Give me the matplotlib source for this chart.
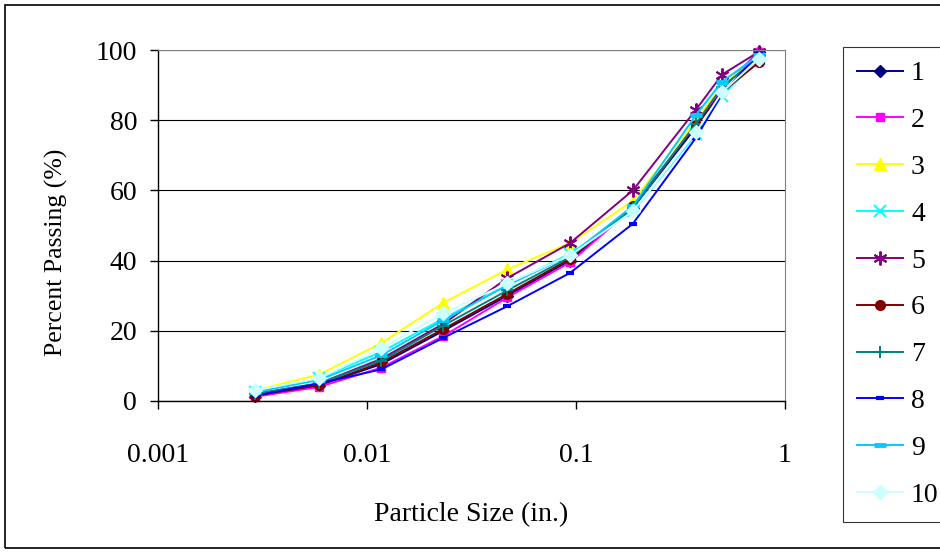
import matplotlib
matplotlib.use("Agg")
import matplotlib.pyplot as plt
from matplotlib.patches import Rectangle
import matplotlib.ticker as mticker

sizes = [0.0029, 0.0059, 0.0117, 0.0232, 0.0469, 0.0937, 0.187, 0.375, 0.5, 0.75]
labels = ["1", "2", "3", "4", "5", "6", "7", "8", "9", "10"]
s1 = [1.5, 4.5, 10.5, 20.0, 30.0, 40.0, 55.0, 78.0, 89.0, 99.5]
s2 = [1.2, 4.0, 9.5, 18.5, 29.5, 39.5, 55.0, 79.0, 89.0, 99.5]
s3 = [3.0, 7.5, 16.5, 28.0, 37.5, 45.0, 57.0, 80.0, 90.0, 98.0]
s4 = [2.5, 6.5, 14.0, 23.5, 33.0, 42.0, 54.0, 76.0, 87.0, 97.5]
s5 = [2.0, 5.0, 12.0, 22.0, 35.0, 45.0, 60.0, 83.0, 93.0, 99.5]
s6 = [1.5, 4.5, 11.0, 20.5, 30.5, 40.5, 55.5, 78.5, 88.0, 96.5]
s7 = [2.0, 5.0, 11.5, 21.5, 31.5, 41.0, 55.0, 79.0, 89.5, 98.0]
s8 = [1.5, 5.0, 9.0, 18.0, 27.0, 36.5, 50.5, 75.0, 87.5, 99.0]
s9 = [2.5, 6.0, 13.0, 23.0, 33.0, 41.5, 55.5, 81.5, 91.0, 98.5]
s10 = [3.0, 6.5, 15.0, 25.0, 33.5, 41.5, 54.0, 76.5, 88.0, 97.5]
series = [s1, s2, s3, s4, s5, s6, s7, s8, s9, s10]

colors = ["#000080", "#FF00FF", "#FFFF00", "#00FFFF", "#800080",
          "#800000", "#008080", "#0000FF", "#00CCFF", "#CCFFFF"]
markers = ["D", "s", "^", "x", (6, 2, 0), "o", "+", "_", "_", "D"]
msizes = [6, 6, 8, 8, 10, 7, 9, 6, 9, 7]
mews = [1, 1, 1, 1.4, 1.4, 1, 1.4, 3, 3.5, 1]

plt.rcParams['font.family'] = ['Liberation Serif', 'DejaVu Serif']

fig = plt.figure(figsize=(9.4, 5.52), dpi=100)
W, H = 940.0, 552.0
ax = fig.add_axes([158 / W, 1 - 401 / H, (785 - 158) / W, (401 - 50) / H])

for vals, c, m, ms, mew, lab in zip(series, colors, markers, msizes, mews, labels):
    ax.plot(sizes, vals, color=c, marker=m, markersize=ms, markeredgewidth=mew,
            markerfacecolor=c, markeredgecolor=c, linewidth=1.4, label=lab,
            clip_on=False)

ax.set_xscale("log")
ax.set_xlim(0.001, 1)
ax.set_ylim(0, 100)
ax.set_xticks([0.001, 0.01, 0.1, 1])
ax.xaxis.set_major_formatter(mticker.FixedFormatter(["0.001", "0.01", "0.1", "1"]))
ax.xaxis.set_minor_locator(mticker.NullLocator())
ax.set_yticks([0, 20, 40, 60, 80, 100])
ax.yaxis.grid(True, color="#000000", linewidth=0.8)
ax.set_axisbelow(True)
for side in ["top", "right"]:
    ax.spines[side].set_color("#808080")
for side in ["left", "bottom"]:
    ax.spines[side].set_color("black")
    ax.spines[side].set_linewidth(1.0)
ax.tick_params(axis="both", direction="out", length=6, width=1, labelsize=20,
               colors="black", pad=9)
ax.tick_params(axis="x", pad=24)
ax.set_xlabel("Particle Size (in.)", fontsize=20, labelpad=25)
ax.set_ylabel("Percent Passing (%)", fontsize=18.5)
ax.yaxis.set_label_coords(-0.143, 0.425)

handles, labs = ax.get_legend_handles_labels()
leg = fig.legend(handles, labs, loc="upper left",
                 bbox_to_anchor=(843 / W, 1 - 47 / H), borderaxespad=0,
                 frameon=True, fancybox=False, edgecolor="black",
                 fontsize=20, labelspacing=0.77, handlelength=1.65,
                 handletextpad=0.3, borderpad=0.5)
leg.get_frame().set_linewidth(0.8)

fig.patches.append(Rectangle((5 / W, 1 - 548 / H), 1.0, (548 - 5) / H,
                             transform=fig.transFigure, fill=False,
                             edgecolor="black", linewidth=1.2))

fig.savefig("out.png", dpi=100)
